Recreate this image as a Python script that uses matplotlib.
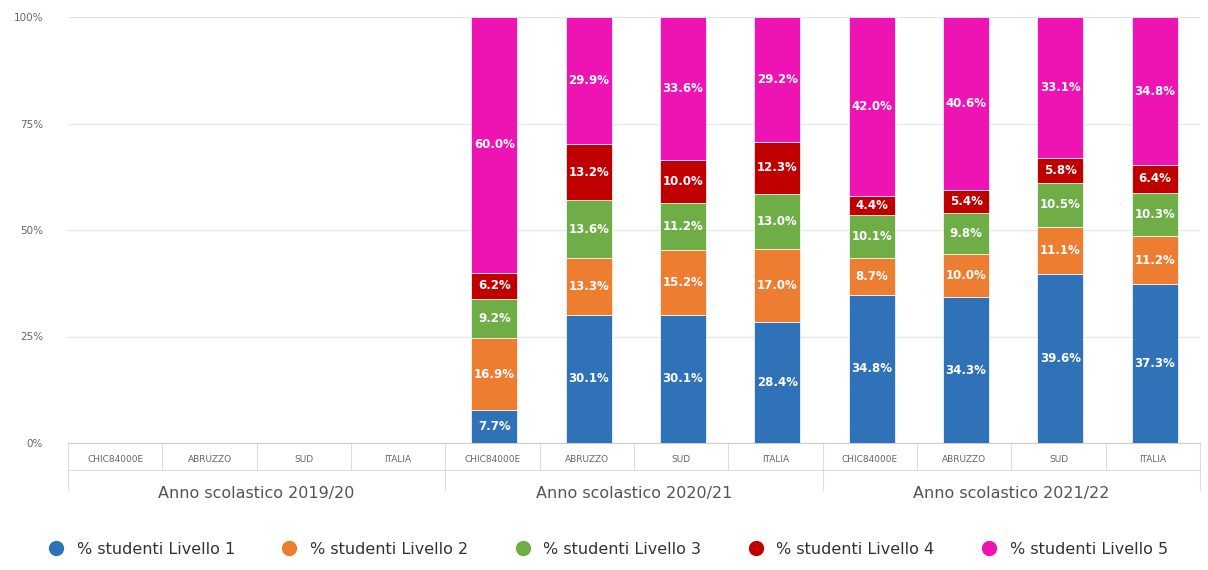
#!/usr/bin/env python3
"""Stacked percentage bars: student levels by school year and area."""
import matplotlib.pyplot as plt
import numpy as np

YEARS = ["Anno scolastico 2019/20", "Anno scolastico 2020/21", "Anno scolastico 2021/22"]
AREAS = ["CHIC84000E", "ABRUZZO", "SUD", "ITALIA"]
SERIES = ["% studenti Livello 1", "% studenti Livello 2", "% studenti Livello 3",
          "% studenti Livello 4", "% studenti Livello 5"]
COLORS = ["#2F72B8", "#ED7D31", "#6FAD47", "#C00000", "#EE14B4"]

# one row per area, grouped by year (2019/20 has no data)
livello_1 = [0, 0, 0, 0, 7.7, 30.1, 30.1, 28.4, 34.8, 34.3, 39.6, 37.3]
livello_2 = [0, 0, 0, 0, 16.9, 13.3, 15.2, 17.0, 8.7, 10.0, 11.1, 11.2]
livello_3 = [0, 0, 0, 0, 9.2, 13.6, 11.2, 13.0, 10.1, 9.8, 10.5, 10.3]
livello_4 = [0, 0, 0, 0, 6.2, 13.2, 10.0, 12.3, 4.4, 5.4, 5.8, 6.4]
livello_5 = [0, 0, 0, 0, 60.0, 29.9, 33.6, 29.2, 42.0, 40.6, 33.1, 34.8]


def main() -> None:
    values = np.array([livello_1, livello_2, livello_3, livello_4, livello_5], dtype=float)
    totals = values.sum(axis=0)
    shares = np.divide(values, totals, out=np.zeros_like(values), where=totals > 0) * 100

    fig = plt.figure(figsize=(12.08, 5.70), dpi=100)
    ax = fig.add_axes([68 / 1208, 127 / 570, 1132 / 1208, 426 / 570])
    x = np.arange(len(YEARS) * len(AREAS))

    bottom = np.zeros(len(x))
    for i, (name, color) in enumerate(zip(SERIES, COLORS)):
        ax.bar(x + 0.02, shares[i], bottom=bottom, width=0.49, color=color, label=name,
               edgecolor="white", linewidth=0.5, zorder=3)
        for xi, v, raw, b in zip(x, shares[i], values[i], bottom):
            if raw > 0:
                ax.text(xi + 0.02, b + v / 2, f"{raw:.1f}%", ha="center", va="center",
                        color="white", fontsize=8.5, fontweight="bold", zorder=4)
        bottom += shares[i]

    ax.set_xlim(-0.5, len(x) - 0.5)
    ax.set_ylim(0, 100)
    ax.set_yticks([0, 25, 50, 75, 100])
    ax.set_yticklabels(["0%", "25%", "50%", "75%", "100%"], fontsize=7.5, color="#666666")
    ax.tick_params(axis="y", length=0, pad=18)
    ax.grid(axis="y", color="#e6e6e6", linewidth=0.9, zorder=0)
    for side in ["top", "right", "left"]:
        ax.spines[side].set_visible(False)
    ax.spines["bottom"].set_color("#cccccc")

    # grouped category axis
    ax.set_xticks(x)
    ax.set_xticklabels(AREAS * len(YEARS), fontsize=6.5, color="#666666")
    ax.tick_params(axis="x", length=0, pad=9)
    trans = ax.get_xaxis_transform()
    for b in np.arange(-0.5, len(x), 1.0):
        is_group = (b + 0.5) % len(AREAS) == 0
        y_end = -0.11 if is_group else -0.063
        ax.plot([b, b], [0, y_end], transform=trans, color="#dddddd",
                linewidth=0.8, clip_on=False)
    ax.plot([-0.5, len(x) - 0.5], [-0.063, -0.063], transform=trans,
            color="#dddddd", linewidth=0.8, clip_on=False)
    for g, year in enumerate(YEARS):
        cx = g * len(AREAS) + (len(AREAS) - 1) / 2
        ax.text(cx, -0.118, year, transform=trans, ha="center", va="center",
                fontsize=11.5, color="#555555")

    handles, labels = ax.get_legend_handles_labels()
    markers = [plt.Line2D([], [], marker="o", linestyle="", markersize=10,
                          color=c) for c in COLORS]
    fig.legend(markers, labels, loc="center", bbox_to_anchor=(0.5, 1 - 549 / 570),
               ncol=5, frameon=False, fontsize=11.5, handletextpad=0.3,
               columnspacing=2.4, labelcolor="#333333")

    fig.savefig("out.png")


if __name__ == "__main__":
    main()
